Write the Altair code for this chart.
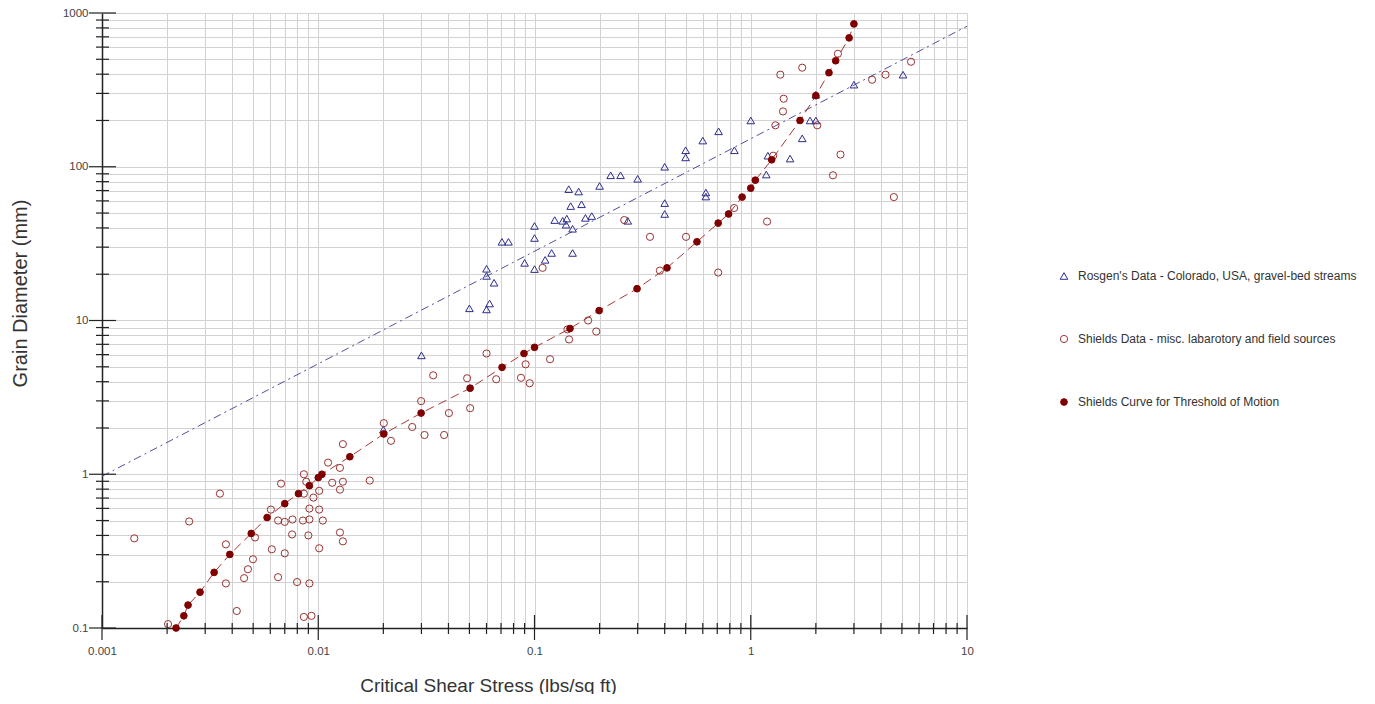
import altair as alt
import pandas as pd

FONT = "Liberation Sans"

# ---------------- data ----------------
series_names = [
    "Rosgen's Data - Colorado, USA, gravel-bed streams",
    "Shields Data - misc. labarotory and field sources",
    "Shields Curve for Threshold of Motion",
]

rosgen_x = [0.02, 0.03, 0.050, 0.060, 0.062, 0.060, 0.060, 0.065, 0.0707, 0.0758,
            0.090, 0.1, 0.1, 0.1, 0.112, 0.12, 0.124, 0.135, 0.14, 0.141,
            0.150, 0.150, 0.147, 0.165, 0.144, 0.160, 0.172, 0.184, 0.2, 0.225,
            0.25, 0.30, 0.27, 0.40, 0.40, 0.40, 0.50, 0.50, 0.6, 0.62,
            0.62, 0.71, 0.84, 1.0, 1.18, 1.2, 1.52, 1.73, 1.88, 2.0,
            2.0, 3.0, 5.06]
rosgen_y = [1.95, 5.93, 12.0, 11.8, 12.9, 21.7, 19.5, 17.6, 32.5, 32.5,
            23.7, 21.6, 34.4, 41.2, 24.8, 27.5, 45, 44.5, 42, 46,
            39.5, 27.5, 55.5, 57, 71.5, 69, 46.5, 47.8, 75, 88,
            88, 83.5, 44.5, 100, 58, 49.3, 128, 115, 148, 68,
            64, 170, 128, 200, 89, 118, 113, 153, 200, 200,
            294, 342, 397]

shields_x = [0.00141, 0.00253, 0.00351, 0.00202, 0.00374, 0.00374, 0.0042, 0.00454, 0.00473, 0.00499,
             0.0051, 0.00604, 0.0061, 0.00652, 0.00673, 0.00652, 0.0070, 0.0070, 0.00757, 0.0076,
             0.00798, 0.0085, 0.00858, 0.00858, 0.0088, 0.00858, 0.0093, 0.0091, 0.0090, 0.0091,
             0.0091, 0.0095, 0.0101, 0.0101, 0.0101, 0.0105, 0.0111, 0.0116, 0.0126, 0.0130,
             0.0126, 0.0126, 0.013, 0.013, 0.0173,
             0.0201, 0.0217, 0.0272, 0.0299, 0.031, 0.034, 0.0382, 0.0402, 0.0488, 0.0504,
             0.060, 0.0665, 0.0866, 0.091, 0.095, 0.118, 0.1445, 0.142, 0.177, 0.193,
             0.38, 0.342, 0.502, 0.707, 0.109, 0.26, 1.19, 0.838,
             1.27, 1.3, 1.41, 1.42, 1.37, 1.73, 2.03, 2.53, 2.6, 2.40,
             3.64, 4.2, 5.51, 4.59]
shields_y = [0.383, 0.493, 0.748, 0.106, 0.350, 0.195, 0.129, 0.211, 0.241, 0.28,
             0.388, 0.589, 0.325, 0.214, 0.869, 0.5, 0.49, 0.306, 0.406, 0.508,
             0.199, 0.5, 1.0, 0.748, 0.894, 0.118, 0.12, 0.195, 0.4, 0.508,
             0.598, 0.705, 0.78, 0.589, 0.33, 0.5, 1.19, 0.88, 1.10, 0.894,
             0.794, 0.418, 0.366, 1.57, 0.91,
             2.15, 1.65, 2.03, 2.99, 1.80, 4.40, 1.80, 2.5, 4.21, 2.69,
             6.1, 4.15, 4.24, 5.19, 3.91, 5.6, 7.53, 8.75, 10, 8.48,
             21.1, 35, 35, 20.5, 22, 45, 44, 53.9,
             118, 186, 229, 277, 397, 441, 186, 543, 120, 88,
             368, 397, 482, 63.5]

curve_x = [0.0022, 0.00239, 0.0025, 0.00284, 0.0033, 0.0039, 0.0049, 0.0058, 0.0070, 0.0081,
           0.0091, 0.0100, 0.0104, 0.014, 0.0201, 0.0299, 0.0504, 0.0708, 0.0894, 0.1,
           0.146, 0.199, 0.298, 0.41, 0.564, 0.707, 0.79, 0.912, 1.0, 1.05,
           1.25, 1.69, 2.0, 2.30, 2.47, 2.85, 3.0]
curve_y = [0.1, 0.12, 0.141, 0.171, 0.23, 0.301, 0.412, 0.523, 0.644, 0.748,
           0.843, 0.95, 1.0, 1.30, 1.83, 2.50, 3.63, 4.96, 6.1, 6.69,
           8.87, 11.6, 16.1, 22.0, 32.5, 43.0, 49.3, 63.5, 72.6, 81.8,
           111, 200, 290, 409, 489, 689, 849]

trend_x = [0.001, 10]
trend_y = [0.97, 820]

x_tick_values = [float(f"{m}e{e}") for e in range(-3, 1) for m in range(1, 10)] + [10.0]
y_tick_values = [float(f"{m}e{e}") for e in range(-1, 3) for m in range(1, 10)] + [1000.0]
x_major = [0.001, 0.01, 0.1, 1.0, 10.0]
y_major = [0.1, 1.0, 10.0, 100.0, 1000.0]

# ---------------- tables ----------------
pts_df = pd.concat([
    pd.DataFrame({"x": rosgen_x, "y": rosgen_y, "series": series_names[0]}),
    pd.DataFrame({"x": shields_x, "y": shields_y, "series": series_names[1]}),
    pd.DataFrame({"x": curve_x, "y": curve_y, "series": series_names[2]}),
], ignore_index=True)
curve_df = pd.DataFrame({"x": curve_x, "y": curve_y})
trend_df = pd.DataFrame({"x": trend_x, "y": trend_y})
xt_major_df = pd.DataFrame({"v": x_major})
xt_minor_df = pd.DataFrame({"v": [v for v in x_tick_values if v not in x_major]})
yt_major_df = pd.DataFrame({"v": y_major})
yt_minor_df = pd.DataFrame({"v": [v for v in y_tick_values if v not in y_major]})

W, H = 865, 615
xscale = alt.Scale(type="log", domain=[0.001, 10], nice=False)
yscale = alt.Scale(type="log", domain=[0.1, 1000], nice=False)
label_expr = "abs(log(datum.value)/LN10 - round(log(datum.value)/LN10)) < 0.001 ? datum.label : ''"

xaxis = alt.Axis(
    values=x_tick_values, format="~g", labelExpr=label_expr,
    title="Critical Shear Stress (lbs/sq ft)",
    grid=True, gridColor="#d2d2d2", gridWidth=1,
    ticks=False, tickSize=0, labelPadding=17, labelFlush=False, labelOverlap=False,
    labelFont=FONT, labelFontSize=11.5, labelColor="#444",
    titleFont=FONT, titleFontSize=19, titleFontWeight="normal", titleColor="#333",
    titleX=386, titleY=57, titleBaseline="middle",
    domainColor="#222", domainWidth=1.5,
)
yaxis = alt.Axis(
    values=y_tick_values, format="~g", labelExpr=label_expr,
    title="Grain Diameter (mm)",
    grid=True, gridColor="#d2d2d2", gridWidth=1,
    ticks=False, tickSize=0, labelPadding=14, labelFlush=False, labelOverlap=False,
    labelFont=FONT, labelFontSize=11.5, labelColor="#444",
    titleFont=FONT, titleFontSize=20, titleFontWeight="normal", titleColor="#333",
    titleX=-82, titleY=280, titleBaseline="middle",
    domainColor="#222", domainWidth=1.5,
)

X = alt.X("x:Q", scale=xscale, axis=xaxis)
Y = alt.Y("y:Q", scale=yscale, axis=yaxis)

trend = alt.Chart(trend_df).mark_line(
    color="#50509c", strokeWidth=1, strokeDash=[8, 4, 2, 4]
).encode(x=X, y=Y)

curve = alt.Chart(curve_df).mark_line(
    color="#a83838", strokeWidth=1, strokeDash=[9, 5]
).encode(x=X, y=Y)

points = alt.Chart(pts_df).mark_point(opacity=1, strokeWidth=1).encode(
    x=X, y=Y,
    shape=alt.Shape("series:N", scale=alt.Scale(domain=series_names, range=["triangle-up", "circle", "circle"]), title=None),
    stroke=alt.Stroke("series:N", scale=alt.Scale(domain=series_names, range=["#2c2c8e", "#9a3232", "#800000"]), title=None),
    fill=alt.Fill("series:N", scale=alt.Scale(domain=series_names, range=["transparent", "transparent", "#800000"]), title=None),
    size=alt.Size("series:N", scale=alt.Scale(domain=series_names, range=[58, 45, 42]), title=None),
)

tick_color = "#222"
rx_major = alt.Chart(xt_major_df).mark_rule(color=tick_color, strokeWidth=1.2).encode(
    x=alt.X("v:Q", scale=xscale, axis=xaxis), y=alt.value(H - 13), y2=alt.value(H + 12))
rx_minor = alt.Chart(xt_minor_df).mark_rule(color=tick_color, strokeWidth=1.2).encode(
    x=alt.X("v:Q", scale=xscale, axis=xaxis), y=alt.value(H - 5), y2=alt.value(H + 6))
ry_major = alt.Chart(yt_major_df).mark_rule(color=tick_color, strokeWidth=1.2).encode(
    y=alt.Y("v:Q", scale=yscale, axis=yaxis), x=alt.value(-13), x2=alt.value(14))
ry_minor = alt.Chart(yt_minor_df).mark_rule(color=tick_color, strokeWidth=1.2).encode(
    y=alt.Y("v:Q", scale=yscale, axis=yaxis), x=alt.value(-6), x2=alt.value(7))

chart = alt.layer(trend, curve, points, rx_major, rx_minor, ry_major, ry_minor).properties(
    width=W, height=H,
    padding={"left": 94, "top": 5, "right": 398, "bottom": 66},
    autosize=alt.AutoSizeParams(type="none"),
    background="white",
).configure_view(stroke=None).configure_legend(
    orient="none", legendX=956, legendY=257, padding=0,
    labelFont=FONT, labelFontSize=12, labelColor="#333", labelLimit=400,
    rowPadding=51, labelOffset=8, symbolStrokeWidth=1,
)

chart.save("out.html", embed_options={"renderer": "svg", "actions": False})
